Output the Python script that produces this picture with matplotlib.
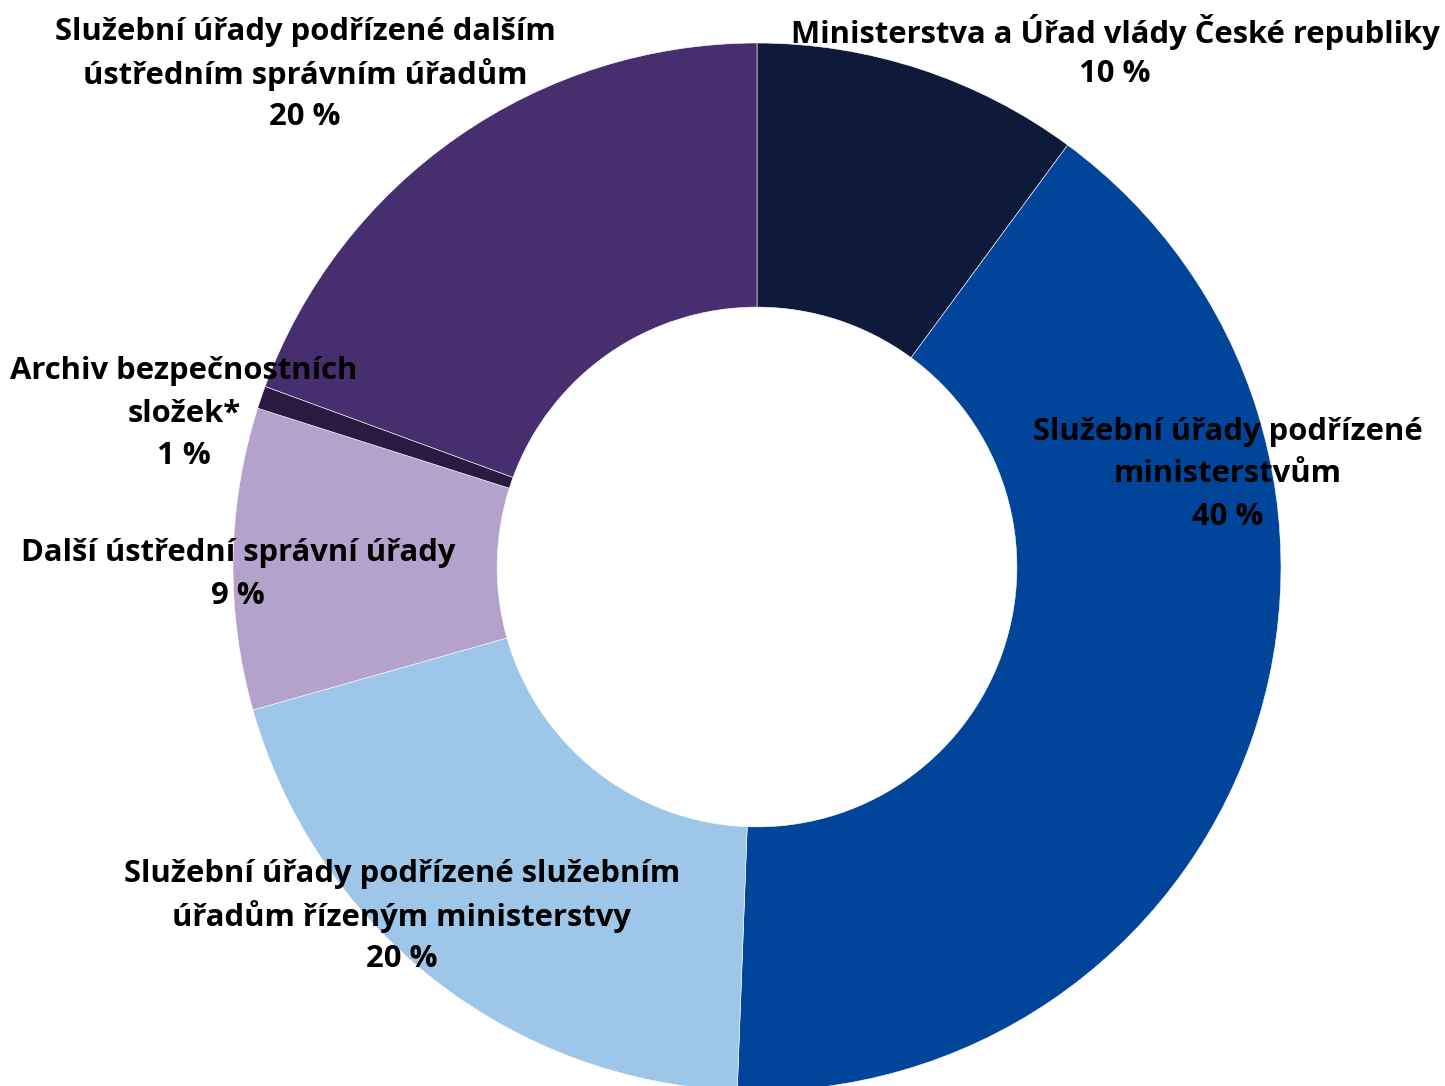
import matplotlib
matplotlib.use("Agg")
import matplotlib.pyplot as plt

categories = [
    "Ministerstva a Úřad vlády České republiky",
    "Služební úřady podřízené ministerstvům",
    "Služební úřady podřízené služebním úřadům řízeným ministerstvy",
    "Další ústřední správní úřady",
    "Archiv bezpečnostních složek*",
    "Služební úřady podřízené dalším ústředním správním úřadům",
]
values = [10.1, 40.5, 20.0, 9.3, 0.7, 19.4]
pct_labels = ["10 %", "40 %", "20 %", "9 %", "1 %", "20 %"]
label_text = [
    "Ministerstva a Úřad vlády České republiky",
    "Služební úřady podřízené\nministerstvům",
    "Služební úřady podřízené služebním\núřadům řízeným ministerstvy",
    "Další ústřední správní úřady",
    "Archiv bezpečnostních\nsložek*",
    "Služební úřady podřízené dalším\nústředním správním úřadům",
]
colors = ["#0d1a3a", "#00459a", "#9dc6e9", "#b2a2cc", "#2a1a42", "#462e6f"]

W, H = 1445, 1086
fig = plt.figure(figsize=(W / 100, H / 100), dpi=100)
ax = fig.add_axes([0, 0, 1, 1])
ax.set_xlim(0, W)
ax.set_ylim(0, H)
ax.set_aspect("equal")
ax.axis("off")

cx, cy, R = 757, H - 567, 524
ax.pie(values, colors=colors, startangle=90, counterclock=False,
       center=(cx, cy), radius=R,
       wedgeprops=dict(width=R * 0.504, edgecolor="white", linewidth=0.4))
ax.set_xlim(0, W)
ax.set_ylim(0, H)

# label block positions (center x, top line center y) in pixels
label_pos = [(1115, 32), (1228, 432), (402, 874), (238, 553), (184, 371), (305, 32)]
line_h = 42.5
for txt, pct, (x, y) in zip(label_text, pct_labels, label_pos):
    lines = txt.split("\n") + [pct]
    for i, ln in enumerate(lines):
        ax.text(x, H - (y + i * line_h), ln, ha="center", va="center",
                fontsize=22.3, fontweight="bold", family="Open Sans", color="black")

fig.savefig("out.png", dpi=100)
